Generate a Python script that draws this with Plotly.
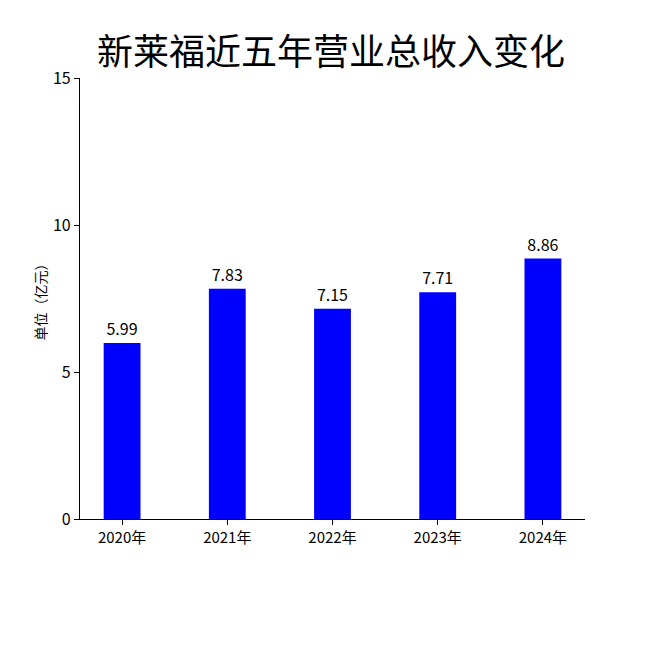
import plotly.graph_objects as go

# 新莱福 营业总收入（亿元）
years = ["2020年", "2021年", "2022年", "2023年", "2024年"]
revenue = [5.99, 7.83, 7.15, 7.71, 8.86]
y_ticks = [0, 5, 10, 15]

FONT = "Liberation Sans Narrow, Noto Sans CJK SC, sans-serif"

fig = go.Figure(go.Bar(
    x=years, y=revenue,
    marker_color="#0000ff", marker_line_width=0,
    width=0.35,
    text=[f"{v:.2f}" for v in revenue], textposition="outside",
    textfont=dict(size=16, color="#000000", family=FONT),
    cliponaxis=False,
))

fig.update_layout(
    width=650, height=650,
    paper_bgcolor="white", plot_bgcolor="white",
    margin=dict(l=72, r=73, t=70, b=139),
    font=dict(family=FONT, color="#000000", size=15),
    title=dict(text="新莱福近五年营业总收入变化", x=0.497, xanchor="center",
               y=0.932, yanchor="middle",
               font=dict(size=36, family="Noto Sans CJK SC, sans-serif", color="#000000")),
    showlegend=False,
)
fig.update_xaxes(
    range=[-0.4, 4.4], showline=True, linecolor="#000000", linewidth=1.2,
    ticks="outside", ticklen=5, tickcolor="#000000",
    tickfont=dict(size=15), showgrid=False,
)
fig.update_yaxes(
    range=[0, 15], tickvals=y_ticks, showline=True, linecolor="#000000", linewidth=1.2,
    ticks="outside", ticklen=5, tickcolor="#000000", showgrid=False, zeroline=False,
    tickfont=dict(size=16),
    title=dict(text="单位（亿元）", font=dict(size=14, family="Noto Sans CJK SC, sans-serif"), standoff=3),
)

fig.write_html("out.html")
